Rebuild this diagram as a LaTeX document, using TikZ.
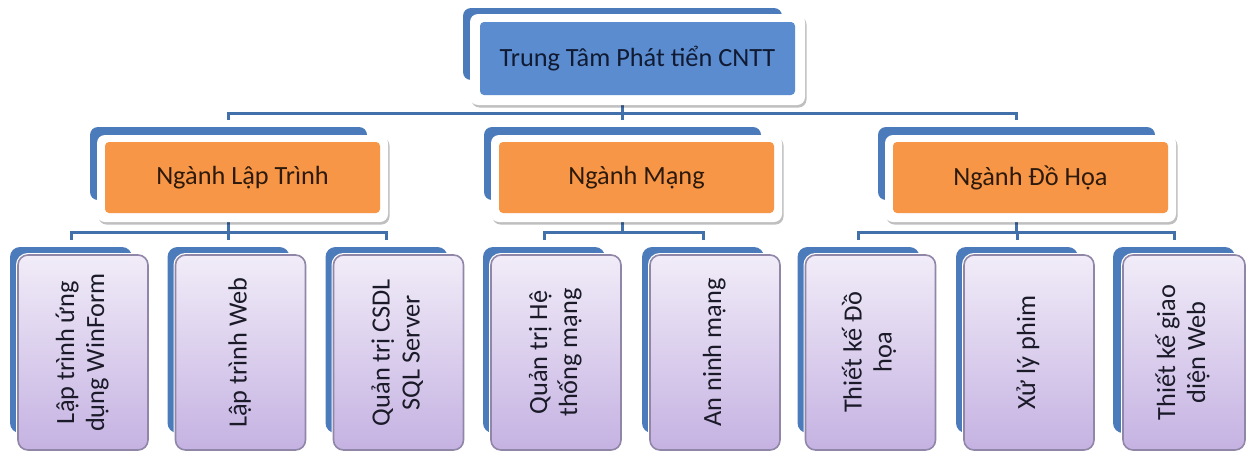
\documentclass[tikz,border=0pt]{standalone}
\usepackage{fontspec}
\setmainfont{Carlito}
\usetikzlibrary{shadows}
\pgfdeclarelayer{backmost}
\pgfdeclarelayer{bg}
\pgfsetlayers{backmost,bg,main}
\definecolor{connc}{HTML}{4270AA}
\definecolor{backblue}{HTML}{4B7BBB}
\definecolor{topblue}{HTML}{5A8CCF}
\definecolor{orng}{HTML}{F79646}
\definecolor{toptext}{HTML}{111A33}
\definecolor{orngtext}{HTML}{2E1A0C}
\definecolor{purptext}{HTML}{1A1A28}
\definecolor{purptop}{HTML}{F1ECF8}
\definecolor{purpbot}{HTML}{C5B2E2}
\definecolor{purpline}{HTML}{8F86A8}
\tikzset{
  connline/.style={draw=connc, line width=3pt, shorten >=7pt},
  backbox/.style={fill=backblue, rounded corners=8pt, inner sep=0pt, draw=none},
  whiteframe/.style={fill=white, rounded corners=8pt, inner sep=0pt,
    drop shadow={shadow xshift=1.5pt, shadow yshift=-2.5pt, opacity=0.25, fill=black}},
  lbl/.style={font=\fontsize{26.3}{30}\selectfont, align=center},
  topbox/.style={lbl, fill=topblue, text=toptext, rounded corners=4pt, inner sep=0pt,
    minimum width=315pt, minimum height=73pt},
  orngbox/.style={lbl, fill=orng, text=orngtext, rounded corners=4pt, inner sep=0pt,
    minimum width=275pt, minimum height=71pt},
  l2back/.style={backbox, minimum width=277pt, minimum height=73pt},
  l2frame/.style={whiteframe, minimum width=291pt, minimum height=87pt},
  l3back/.style={backbox, rounded corners=10pt, minimum width=122pt, minimum height=186pt},
  l3box/.style={lbl, text=purptext, top color=purptop, bottom color=purpbot,
    draw=purpline, line width=1.6pt, rounded corners=10pt, inner sep=0pt,
    preaction={draw=white, line width=4pt},
    minimum width=130pt, minimum height=195pt},
}
\newcommand{\vtext}[1]{\rotatebox{90}{\begin{tabular}{@{}c@{}}#1\end{tabular}}}
\begin{document}
\begin{tikzpicture}[x=1pt,y=-1pt]
\useasboundingbox (0,0) rectangle (1246,453);
\begin{pgfonlayer}{backmost}
\fill[white] (0,0) rectangle (1246,453);
\end{pgfonlayer}

% top
\node[backbox, minimum width=319pt, minimum height=72pt] (tb) at (622.5,44) {};
\node[whiteframe, minimum width=335pt, minimum height=91pt] (tf) at (637.5,59.5) {};
\node[topbox] (tn) at (637.5,58.5) {Trung Tâm Phát tiển CNTT};

% level 2
\node[l2back] (lb1) at (228.5,163.5) {};
\node[l2frame] (lf1) at (242.5,178.5) {};
\node[orngbox] (ln1) at (242.5,177.5) {Ngành Lập Trình};

\node[l2back] (lb2) at (622.5,163.5) {};
\node[l2frame] (lf2) at (636.5,178.5) {};
\node[orngbox] (ln2) at (636.5,177.5) {Ngành Mạng};

\node[l2back] (lb3) at (1016.5,163.5) {};
\node[l2frame] (lf3) at (1030.5,178.5) {};
\node[orngbox] (ln3) at (1030.5,177.5) {Ngành Đồ Họa};

% level 3
\node[l3back] (cb1) at (71,340) {};
\node[l3box] (cf1) at (83,352.5) {\vtext{Lập trình ứng\\dụng WinForm}};
\node[l3back] (cb2) at (228.5,340) {};
\node[l3box] (cf2) at (240.5,352.5) {\vtext{Lập trình Web}};
\node[l3back] (cb3) at (386.5,340) {};
\node[l3box] (cf3) at (398.5,352.5) {\vtext{Quản trị CSDL\\SQL Server}};
\node[l3back] (cb4) at (544,340) {};
\node[l3box] (cf4) at (556,352.5) {\vtext{Quản trị Hệ\\thống mạng}};
\node[l3back] (cb5) at (703,340) {};
\node[l3box] (cf5) at (715,352.5) {\vtext{An ninh mạng}};
\node[l3back] (cb6) at (858.5,340) {};
\node[l3box] (cf6) at (870.5,352.5) {\vtext{Thiết kế Đồ\\họa}};
\node[l3back] (cb7) at (1017,340) {};
\node[l3box] (cf7) at (1029,352.5) {\vtext{Xử lý phim}};
\node[l3back] (cb8) at (1174,340) {};
\node[l3box, minimum width=122pt] (cf8) at (1184,352.5) {\vtext{Thiết kế giao\\diện Web}};

% connectors
\begin{pgfonlayer}{bg}
\draw[connline] (tb.south) -- ++(0,33) -| (lb1.north);
\draw[connline] (tb.south) -- ++(0,33) -| (lb2.north);
\draw[connline] (tb.south) -- ++(0,33) -| (lb3.north);

\draw[connline] (lb1.south) -- ++(0,32) -| (cb1.north);
\draw[connline] (lb1.south) -- ++(0,32) -| (cb2.north);
\draw[connline] (lb1.south) -- ++(0,32) -| (cb3.north);

\draw[connline] (lb2.south) -- ++(0,32) -| (cb4.north);
\draw[connline] (lb2.south) -- ++(0,32) -| (cb5.north);

\draw[connline] (lb3.south) -- ++(0,32) -| (cb6.north);
\draw[connline] (lb3.south) -- ++(0,32) -| (cb7.north);
\draw[connline] (lb3.south) -- ++(0,32) -| (cb8.north);
\end{pgfonlayer}
\end{tikzpicture}
\end{document}
